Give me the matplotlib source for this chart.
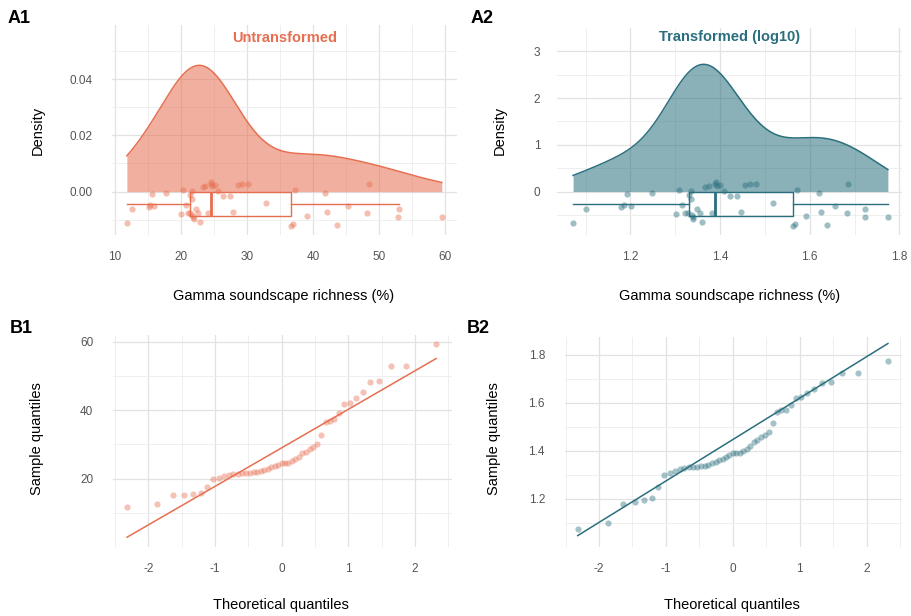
import numpy as np
import matplotlib.pyplot as plt
from statistics import NormalDist

plt.rcParams['font.family'] = ['Liberation Sans', 'DejaVu Sans']
plt.rcParams['axes.unicode_minus'] = False

# gamma soundscape richness (%), sorted, n = 49
richness = [11.8, 12.6, 15.1, 15.3, 15.6, 15.9, 17.7, 20.0, 20.3, 20.7,
            21.0, 21.3, 21.4, 21.6, 21.6, 21.7, 21.8, 21.9, 22.3, 22.6,
            22.9, 23.3, 23.7, 24.1, 24.5, 24.6, 24.7, 25.1, 25.6, 26.4,
            27.4, 27.9, 28.6, 29.3, 30.2, 32.9, 36.6, 37.0, 37.3, 39.1,
            41.8, 42.1, 43.6, 45.3, 48.2, 48.5, 52.8, 53.0, 59.5]

# vertical jitter of the raincloud points, in box half-heights
jitter = [-1.54, -0.41, -0.27, -0.11, 0.78, -0.19, 0.87, -0.84, 1.11, -0.11,
          -0.76, -0.73, 0.70, 0.38, 1.05, -0.92, -1.06, -1.24, -0.43, -0.73,
          -1.46, 1.38, 1.46, -0.73, 1.60, 1.78, 1.46, 1.51, 1.05, 0.62,
          0.62, -0.65, 1.51, 1.60, 1.60, 0.08, -1.81, -1.67, 1.11, -1.00,
          0.84, -0.68, -1.75, -0.19, -0.73, 1.65, -1.06, -0.43, -1.08]

raw = np.array(richness)
logged = np.log10(raw)

CORAL = "#E76F51"
TEAL = "#2A6F7E"
W, H = 911, 616

fig = plt.figure(figsize=(W / 100, H / 100), dpi=100)


def add_ax(l, t, r, b):
    return fig.add_axes([l / W, 1 - b / H, (r - l) / W, (b - t) / H])


def ftext(x, y, s, **kw):
    fig.text(x / W, 1 - y / H, s, **kw)


def style(ax, xlim, ylim, xmaj, xmin, ymaj, ymin, ypad, ylabels=None):
    for sp in ax.spines.values():
        sp.set_visible(False)
    ax.set_xlim(xlim)
    ax.set_ylim(ylim)
    ax.set_xticks(xmaj)
    ax.set_xticks(xmin, minor=True)
    ax.set_yticks(ymaj)
    ax.set_yticks(ymin, minor=True)
    if ylabels is not None:
        ax.set_yticklabels(ylabels)
    ax.grid(which='major', color='#E2E2E2', lw=0.9)
    ax.grid(which='minor', color='#EDEDED', lw=0.6)
    ax.set_axisbelow(True)
    ax.tick_params(which='both', length=0, labelsize=8.5, labelcolor='#555555')
    ax.tick_params(axis='x', pad=11.5)
    ax.tick_params(axis='y', pad=ypad)


def kde(values):
    n = len(values)
    q1, q3 = np.percentile(values, [25, 75])
    bw = 0.9 * min(values.std(ddof=1), (q3 - q1) / 1.34) * n ** -0.2
    xs = np.linspace(values.min(), values.max(), 512)
    z = (xs[:, None] - values[None, :]) / bw
    ys = np.exp(-0.5 * z ** 2).sum(axis=1) / (n * bw * np.sqrt(2 * np.pi))
    return xs, ys


def raincloud(ax, values, color, box_mid, box_h):
    xs, ys = kde(values)
    ax.fill_between(xs, 0, ys, color=color, alpha=0.55, lw=0, zorder=2)
    ax.plot(xs, ys, color=color, lw=1.1, zorder=3)
    ax.boxplot(values, positions=[box_mid], widths=box_h, orientation='horizontal',
               showfliers=False, showcaps=False, manage_ticks=False,
               boxprops=dict(color=color, lw=1.0),
               whiskerprops=dict(color=color, lw=1.0),
               medianprops=dict(color=color, lw=2.0), zorder=3)
    ax.scatter(values, box_mid + np.array(jitter) * box_h / 2, s=20,
               color=color, alpha=0.45, lw=0, zorder=4)


def qq(ax, values, color):
    nd = NormalDist()
    n = len(values)
    theo = np.array([nd.inv_cdf((i - 0.5) / n) for i in range(1, n + 1)])
    samp = np.sort(values)
    q1, q3 = np.percentile(samp, [25, 75])
    x1, x3 = nd.inv_cdf(0.25), nd.inv_cdf(0.75)
    slope = (q3 - q1) / (x3 - x1)
    icpt = q1 - slope * x1
    ax.scatter(theo, samp, s=20, color=color, alpha=0.42, lw=0, zorder=3)
    lx = np.array([theo.min(), theo.max()])
    ax.plot(lx, icpt + slope * lx, color=color, lw=1.1, zorder=4)


# A1: untransformed raincloud
ax = add_ax(112, 25, 457, 235)
raincloud(ax, raw, CORAL, -0.0043, 0.0087)
style(ax, (9.55, 61.8), (-0.0154, 0.0592), np.arange(10, 61, 10), np.arange(15, 60, 10),
      [0, 0.02, 0.04], [-0.01, 0.01, 0.03, 0.05], 13.7, ['0.00', '0.02', '0.04'])

# A2: log10 raincloud
ax = add_ax(557, 28, 902, 235)
raincloud(ax, logged, TEAL, -0.262, 0.525)
style(ax, (1.036, 1.806), (-0.93, 3.5), [1.2, 1.4, 1.6, 1.8], [1.1, 1.3, 1.5, 1.7],
      [0, 1, 2, 3], [-0.5, 0.5, 1.5, 2.5], 12.0)

# B1: Q-Q untransformed
ax = add_ax(112.7, 335, 451.7, 546.7)
qq(ax, raw, CORAL)
style(ax, (-2.534, 2.551), (0.1, 62), [-2, -1, 0, 1, 2], [-2.5, -1.5, -0.5, 0.5, 1.5, 2.5],
      [20, 40, 60], [10, 30, 50], 14.0)

# B2: Q-Q log10
ax = add_ax(565, 336.7, 901.7, 546.7)
qq(ax, logged, TEAL)
style(ax, (-2.509, 2.525), (1.0, 1.876), [-2, -1, 0, 1, 2], [-2.5, -1.5, -0.5, 0.5, 1.5, 2.5],
      [1.2, 1.4, 1.6, 1.8], [1.1, 1.3, 1.5, 1.7], 14.4)

# panel tags
for x, y, s in [(8, 22.7, 'A1'), (471, 22.7, 'A2'), (10, 332.7, 'B1'), (467, 332.7, 'B2')]:
    ftext(x, y, s, fontsize=13, fontweight='bold', va='baseline')

# panel titles
ftext(284.5, 41.5, 'Untransformed', color=CORAL, fontsize=10.5, fontweight='bold',
      ha='center', va='baseline')
ftext(730, 41.5, 'Transformed (log10)', color=TEAL, fontsize=10.5, fontweight='bold',
      ha='center', va='baseline')

# axis titles
lab = dict(fontsize=10.5, ha='center', va='center')
ftext(284, 296, 'Gamma soundscape richness (%)', **lab)
ftext(730, 296, 'Gamma soundscape richness (%)', **lab)
ftext(281, 605, 'Theoretical quantiles', **lab)
ftext(732, 605, 'Theoretical quantiles', **lab)
ftext(37.5, 130, 'Density', rotation=90, **lab)
ftext(500, 130, 'Density', rotation=90, **lab)
ftext(37.5, 439, 'Sample quantiles', rotation=90, **lab)
ftext(494, 439, 'Sample quantiles', rotation=90, **lab)

fig.savefig('out.png', dpi=100, facecolor='white')
